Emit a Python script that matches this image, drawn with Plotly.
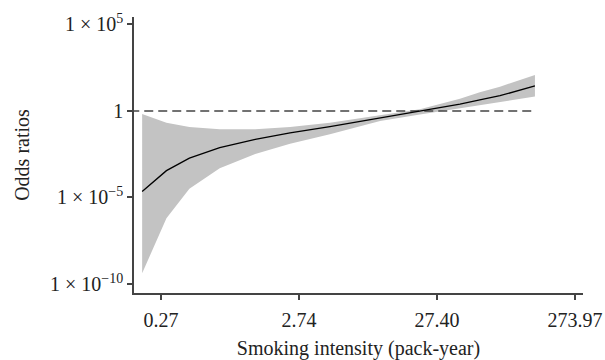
import plotly.graph_objects as go

# Smoking intensity (pack-year) sample points
pack_years = [0.20, 0.30, 0.44, 0.73, 1.32, 2.36, 4.59, 10.6, 20.6, 40.2, 56.0, 78.4, 140.5]
# log10 of odds ratios
log_or = [-4.66, -3.45, -2.73, -2.12, -1.64, -1.27, -0.90, -0.40, -0.04, 0.40, 0.64, 0.88, 1.45]
log_upper = [-0.17, -0.68, -0.93, -1.05, -1.05, -0.92, -0.68, -0.25, 0.10, 0.70, 1.08, 1.40, 2.08]
log_lower = [-9.38, -6.20, -4.50, -3.31, -2.48, -1.90, -1.35, -0.58, -0.20, 0.15, 0.35, 0.50, 0.83]

x_tickvals = [0.27397, 2.7397, 27.397, 273.97]
x_ticktext = ["0.27", "2.74", "27.40", "273.97"]
y_tickvals = [1e5, 1, 1e-5, 1e-10]
y_ticktext = ["1 × 10<sup>5</sup>", "1", "1 × 10<sup>−5</sup>", "1 × 10<sup>−10</sup>"]

OR = [10 ** v for v in log_or]
UP = [10 ** v for v in log_upper]
LO = [10 ** v for v in log_lower]

font = "Liberation Serif"
axis_color = "#444444"

fig = go.Figure()
fig.add_trace(go.Scatter(x=pack_years, y=UP, mode="lines", line=dict(width=0),
                         showlegend=False, hoverinfo="skip"))
fig.add_trace(go.Scatter(x=pack_years, y=LO, mode="lines", line=dict(width=0),
                         fill="tonexty", fillcolor="#c3c3c3", showlegend=False, hoverinfo="skip"))
fig.add_trace(go.Scatter(x=[pack_years[0] * 0.82, pack_years[-1]], y=[1, 1], mode="lines",
                         line=dict(color="#444444", width=1.5, dash="9px,5px"), showlegend=False))
fig.add_trace(go.Scatter(x=pack_years, y=OR, mode="lines",
                         line=dict(color="black", width=1.3), showlegend=False))

fig.update_layout(
    width=605, height=360,
    margin=dict(l=134, r=22, t=17, b=67),
    plot_bgcolor="white", paper_bgcolor="white",
    font=dict(family=font, size=20, color="#222222"),
    showlegend=False,
)
fig.update_xaxes(
    type="log", range=[-0.758, 2.496],
    tickvals=x_tickvals, ticktext=x_ticktext,
    ticks="outside", ticklen=5, tickwidth=1.5, tickcolor=axis_color,
    ticklabelstandoff=3,
    showline=True, linecolor=axis_color, linewidth=1.5,
    showgrid=False, zeroline=False, automargin=False,
    title=dict(text="Smoking intensity (pack-year)", font=dict(size=20)),
)
fig.update_yaxes(
    type="log", range=[-10.52, 5.43],
    tickvals=y_tickvals, ticktext=y_ticktext,
    ticks="outside", ticklen=5, tickwidth=1.5, tickcolor=axis_color,
    showline=True, linecolor=axis_color, linewidth=1.5,
    showgrid=False, zeroline=False, automargin=False,
    title=dict(text="Odds ratios", font=dict(size=20)),
)

fig.write_html("out.html", config={"displayModeBar": False},
               post_script="document.body.style.margin='0';")
